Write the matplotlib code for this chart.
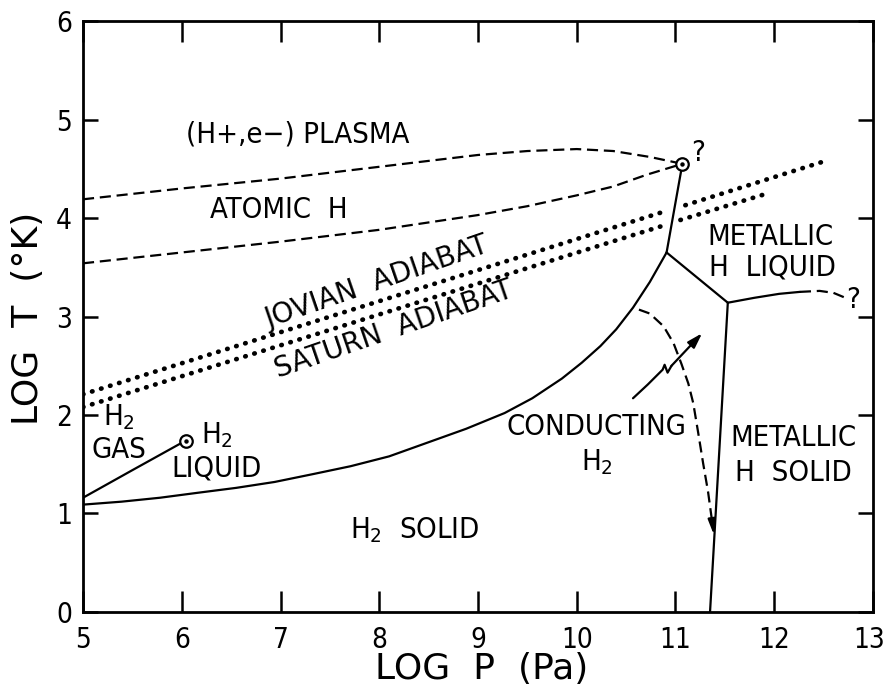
import numpy as np
import matplotlib.pyplot as plt
import matplotlib.transforms as mtransforms
from matplotlib import font_manager

# pick a narrow sans for the lettering, fall back to what is there
fonts = {(f.name, f.stretch) for f in font_manager.fontManager.ttflist}
names = {n for n, s in fonts}
if 'Liberation Sans Narrow' in names:
    narrow, stretch = 'Liberation Sans Narrow', 'normal'
elif ('DejaVu Sans', 'condensed') in fonts or ('DejaVu Sans', 'semi-condensed') in fonts:
    narrow, stretch = 'DejaVu Sans', 'condensed'
elif 'Roboto Condensed' in names:
    narrow, stretch = 'Roboto Condensed', 'normal'
else:
    narrow, stretch = 'Liberation Sans', 'normal'

plt.rcParams['font.family'] = [narrow, 'DejaVu Sans']
plt.rcParams['font.stretch'] = stretch
plt.rcParams['mathtext.fontset'] = 'custom'
plt.rcParams['mathtext.rm'] = f'{narrow}:stretch={stretch}'
plt.rcParams['mathtext.default'] = 'rm'

# phase boundaries (log P [Pa], log T [K])
ion_p = [5.0, 6.0, 7.0, 8.0, 9.0, 9.5, 10.0, 10.37, 10.74, 11.07]
ion_t = [4.19, 4.30, 4.40, 4.52, 4.64, 4.68, 4.70, 4.68, 4.62, 4.55]

dis_p = [5.0, 6.0, 7.0, 8.0, 9.0, 9.5, 10.0, 10.37, 10.71, 11.07]
dis_t = [3.54, 3.65, 3.76, 3.88, 4.03, 4.12, 4.23, 4.32, 4.44, 4.55]

jov_p = [5.0, 10.9, np.nan, 11.1, 12.52]
jov_t = [2.21, 4.07, np.nan, 4.13, 4.58]
sat_p = [5.0, 10.9, np.nan, 11.05, 11.9]
sat_t = [2.08, 3.93, np.nan, 3.98, 4.24]

vap_p = [5.0, 5.5, 6.04]
vap_t = [1.16, 1.44, 1.74]

melt_p = [5.0, 5.39, 5.78, 6.16, 6.55, 6.94, 7.33, 7.71, 8.10, 8.49, 8.88,
          9.27, 9.55, 9.85, 10.05, 10.24, 10.40, 10.57, 10.74, 10.91]
melt_t = [1.09, 1.12, 1.16, 1.21, 1.26, 1.32, 1.40, 1.48, 1.58, 1.72, 1.86,
          2.02, 2.17, 2.37, 2.53, 2.70, 2.87, 3.09, 3.35, 3.65]

crit_p = [10.91, 11.07]
crit_t = [3.65, 4.55]

liq_p = [10.91, 11.53]
liq_t = [3.65, 3.14]

msol_p = [11.53, 11.35]
msol_t = [3.14, 0.0]

mmelt_p = [11.53, 11.8, 12.05, 12.26]
mmelt_t = [3.14, 3.19, 3.23, 3.25]
mmelt_q_p = [12.26, 12.46, 12.6, 12.72]
mmelt_q_t = [3.25, 3.26, 3.24, 3.19]

cond_p = [10.63, 10.74, 10.88, 10.98, 11.06, 11.13, 11.18, 11.23, 11.28, 11.33, 11.36]
cond_t = [3.07, 3.03, 2.90, 2.73, 2.52, 2.32, 2.12, 1.82, 1.51, 1.22, 1.0]

squig_p = [10.57, 10.72, 10.87, 10.89, 10.92, 10.96]
squig_t = [2.17, 2.31, 2.46, 2.51, 2.43, 2.50]

crit_pts_p = [11.07, 6.04]
crit_pts_t = [4.55, 1.74]

fig = plt.figure(figsize=(8.85, 6.87), dpi=100)
ax = fig.add_axes([0.0938, 0.1092, 0.8926, 0.8602])

lw = 1.6
dash = dict(color='black', lw=lw, dashes=(5, 2.6))
ax.plot(ion_p, ion_t, **dash)
ax.plot(dis_p, dis_t, **dash)
ax.plot(mmelt_q_p, mmelt_q_t, **dash)
ax.plot(cond_p, cond_t, **dash)

dot = dict(color='black', lw=3.4, linestyle=(0, (0.1, 1.9)), dash_capstyle='round')
ax.plot(jov_p, jov_t, **dot)
ax.plot(sat_p, sat_t, **dot)

for px, pt in [(vap_p, vap_t), (melt_p, melt_t), (crit_p, crit_t),
               (liq_p, liq_t), (msol_p, msol_t), (mmelt_p, mmelt_t),
               (squig_p, squig_t)]:
    ax.plot(px, pt, color='black', lw=lw, solid_capstyle='round', solid_joinstyle='round')

# arrows
ax.annotate('', xy=(11.39, 0.78), xytext=(cond_p[-1], cond_t[-1]),
            arrowprops=dict(arrowstyle='-|>,head_length=0.9,head_width=0.22',
                            lw=lw, color='black', shrinkA=0, shrinkB=0))
ax.annotate('', xy=(11.27, 2.83), xytext=(squig_p[-1], squig_t[-1]),
            arrowprops=dict(arrowstyle='-|>,head_length=0.9,head_width=0.28',
                            lw=lw, color='black', shrinkA=0, shrinkB=0))

# critical points
ax.plot(crit_pts_p, crit_pts_t, 'o', ms=9, mfc='white', mec='black', mew=1.6, zorder=5)
ax.plot(crit_pts_p, crit_pts_t, 'o', ms=2.2, color='black', zorder=6)

fs = 21
ax.text(7.17, 4.85, '(H+,e\u2212) PLASMA', fontsize=fs, ha='center', va='center')
ax.text(6.98, 4.08, 'ATOMIC  H', fontsize=fs, ha='center', va='center')
ax.text(11.23, 4.66, '?', fontsize=fs, ha='center', va='center')
ax.text(12.80, 3.17, '?', fontsize=fs, ha='center', va='center')
ax.text(5.36, 1.98, 'H$_2$', fontsize=fs, ha='center', va='center')
ax.text(5.36, 1.64, 'GAS', fontsize=fs, ha='center', va='center')
ax.text(6.36, 1.80, 'H$_2$', fontsize=fs, ha='center', va='center')
ax.text(6.35, 1.46, 'LIQUID', fontsize=fs, ha='center', va='center')
ax.text(8.36, 0.83, 'H$_2$  SOLID', fontsize=fs, ha='center', va='center')
ax.text(10.20, 1.88, 'CONDUCTING', fontsize=fs, ha='center', va='center')
ax.text(10.20, 1.52, 'H$_2$', fontsize=fs, ha='center', va='center')
ax.text(11.96, 3.81, 'METALLIC', fontsize=fs, ha='center', va='center')
ax.text(11.98, 3.50, 'H  LIQUID', fontsize=fs, ha='center', va='center')
ax.text(12.19, 1.77, 'METALLIC', fontsize=fs, ha='center', va='center')
ax.text(12.19, 1.41, 'H  SOLID', fontsize=fs, ha='center', va='center')

ax.text(7.98, 3.34, 'JOVIAN  ADIABAT', fontsize=20, family='DejaVu Sans', stretch='normal',
        rotation=19, rotation_mode='anchor', ha='center', va='center')
ax.text(8.15, 2.87, 'SATURN  ADIABAT', fontsize=20, family='DejaVu Sans', stretch='normal',
        rotation=19, rotation_mode='anchor', ha='center', va='center')

ax.set_xlim(5, 13)
ax.set_ylim(0, 6)
ax.set_xticks(range(5, 14))
ax.set_yticks(range(0, 7))
ax.tick_params(direction='in', top=True, right=True, width=1.8, labelsize=20)
ax.tick_params(axis='x', length=15, pad=10)
ax.tick_params(axis='y', length=11, pad=8)
for s in ax.spines.values():
    s.set_linewidth(2.0)

# last x label sits a touch left of its tick, as in the original
last = ax.get_xticklabels()[-1]
last.set_transform(last.get_transform() +
                   mtransforms.ScaledTranslation(-4 / 100, 0, fig.dpi_scale_trans))

ax.text(0.504, -0.097, 'LOG  P  (Pa)', transform=ax.transAxes, fontsize=26,
        family='DejaVu Sans', stretch='normal', ha='center', va='center')
ax.text(-0.0696, 0.497, 'LOG  T  (\u00b0K)', transform=ax.transAxes, fontsize=26,
        family='DejaVu Sans', stretch='normal', ha='center', va='center', rotation=90)

fig.savefig('out.png', dpi=100)
